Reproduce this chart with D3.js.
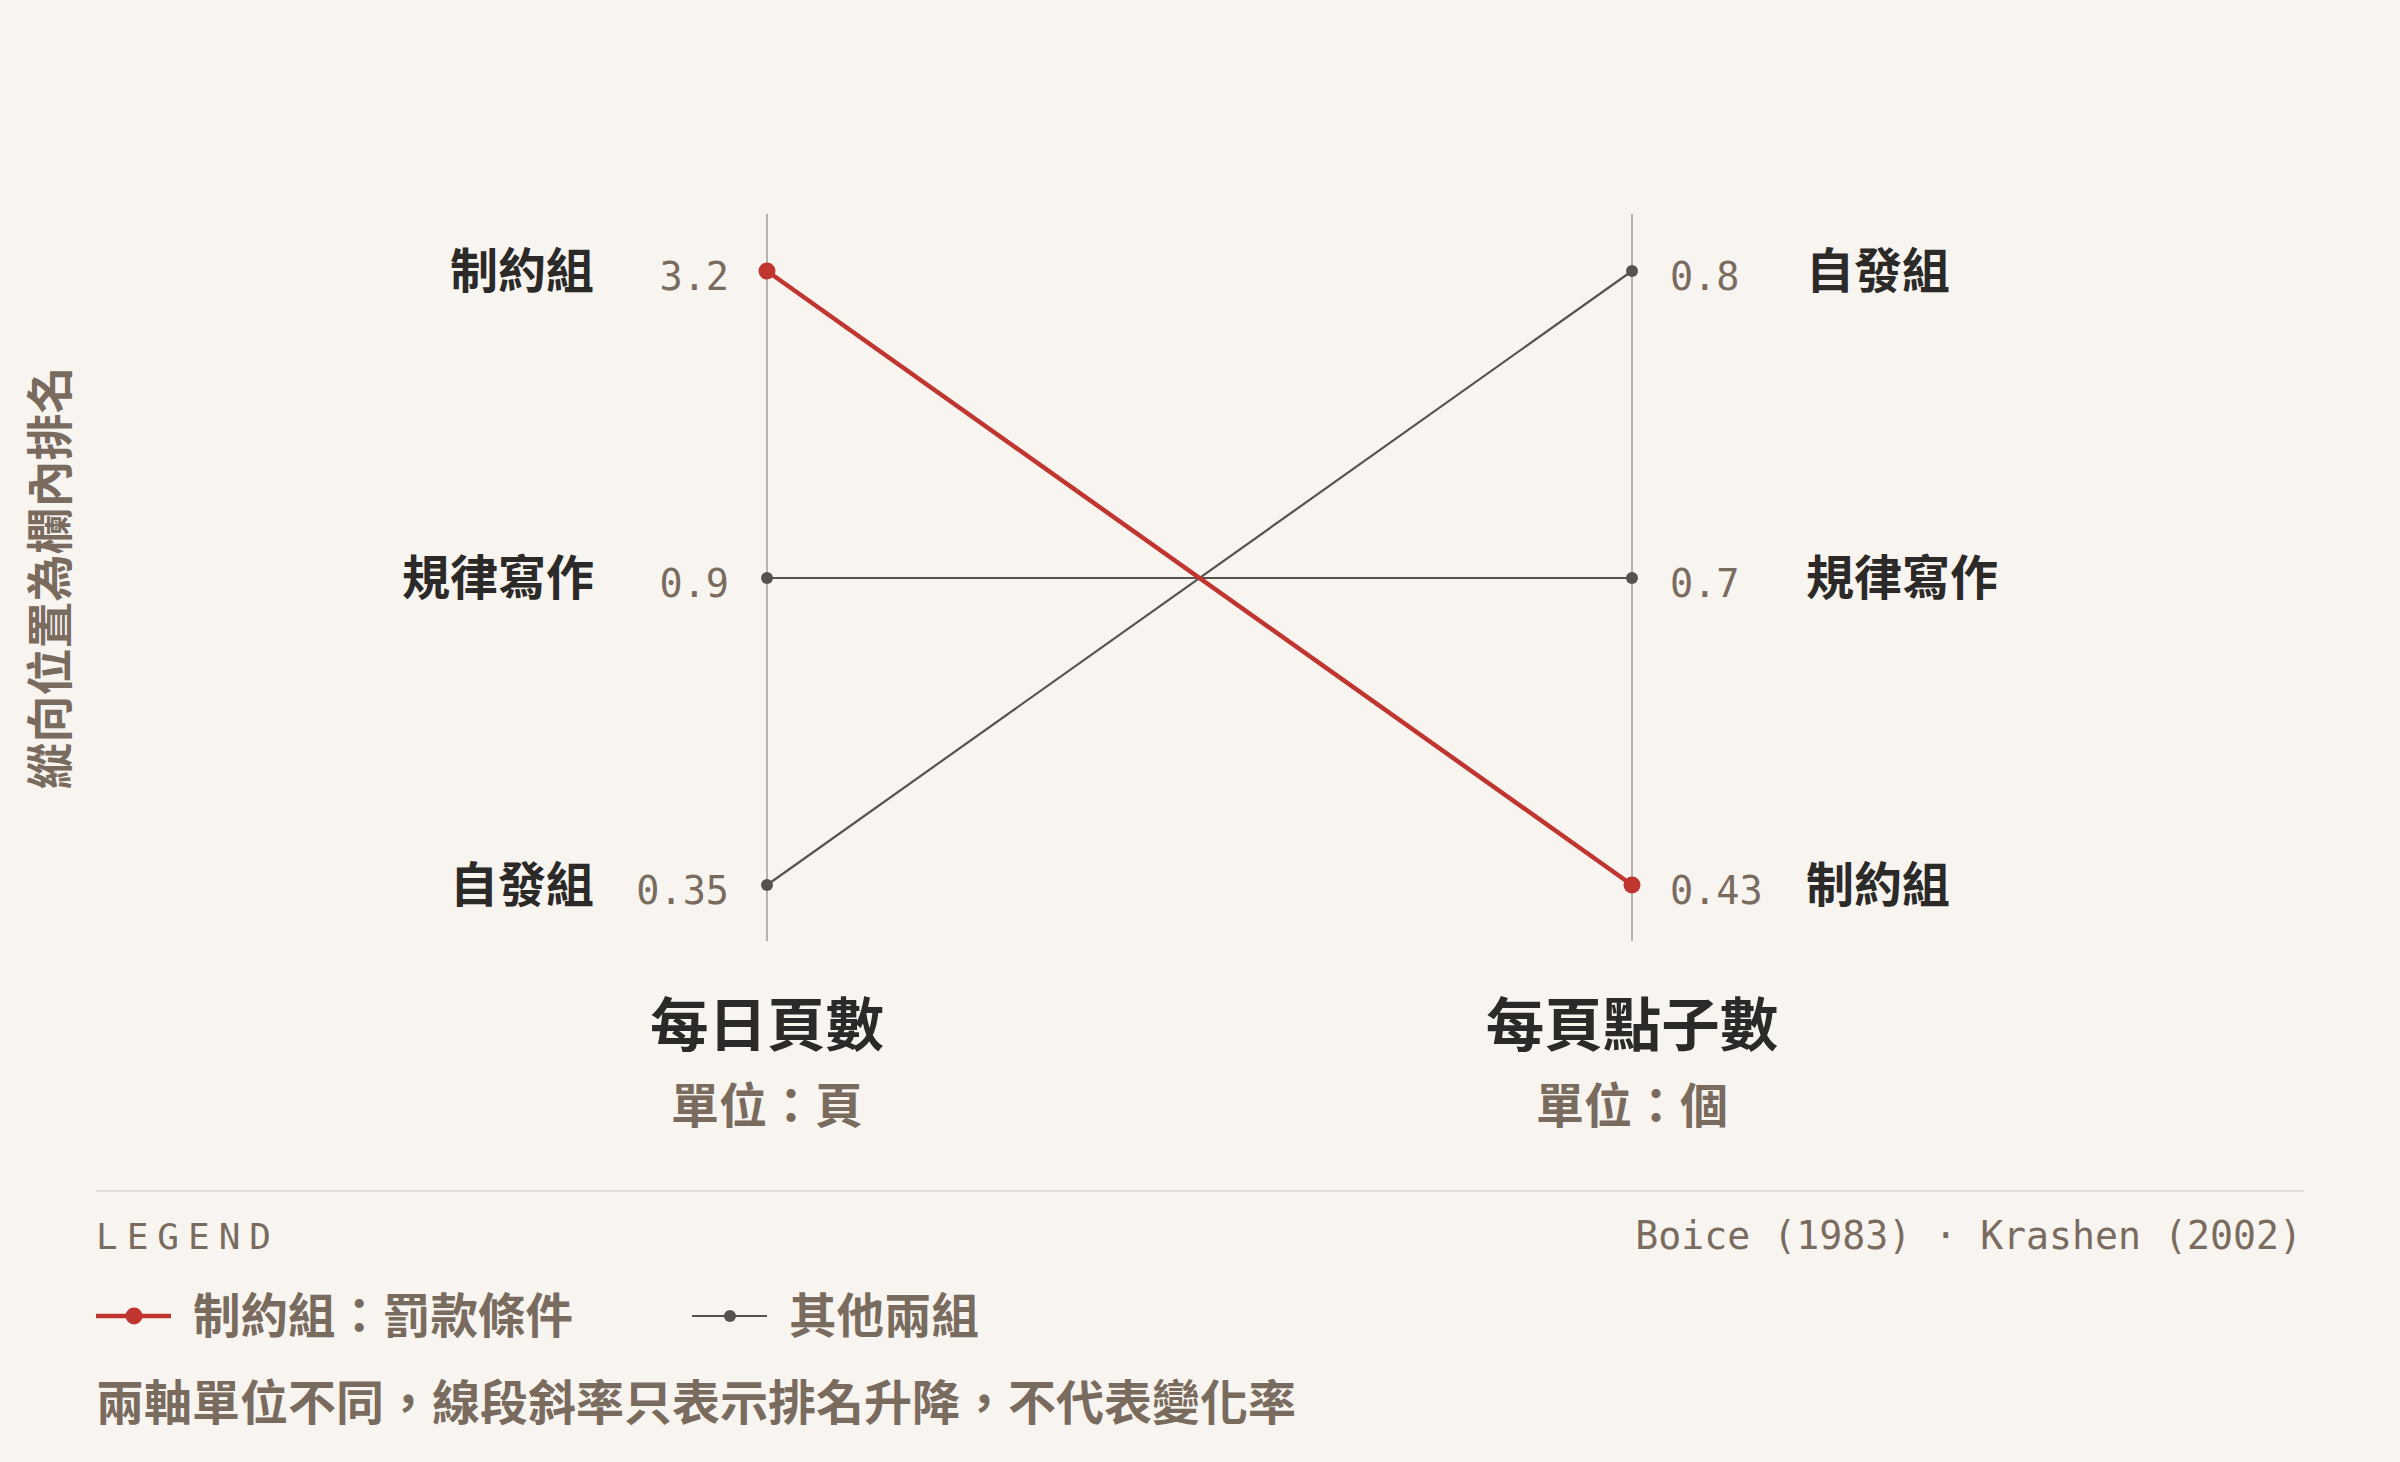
<!DOCTYPE html>
<html>
<head>
<meta charset="utf-8">
<script src="https://cdn.jsdelivr.net/npm/d3@7/dist/d3.min.js"></script>
<style>
  html, body { margin: 0; padding: 0; background: #f8f5f1; }
  svg { display: block; }
</style>
</head>
<body>
<svg id="chart" width="2400" height="1462"></svg>
<script>
// ---- data ----
const columns = ["每日頁數", "每頁點子數"];
const units = ["單位：頁", "單位：個"];
const groups = ["制約組", "自發組", "規律寫作"];
const pagesPerDay = [3.2, 0.35, 0.9];
const ideasPerPage = [0.43, 0.8, 0.7];
const valueLabels = [["3.2", "0.35", "0.9"], ["0.43", "0.8", "0.7"]];
const highlight = "制約組";
const yTitle = "縱向位置為欄內排名";
const legendTitle = "LEGEND";
const sourceText = "Boice (1983) · Krashen (2002)";
const legendItems = ["制約組：罰款條件", "其他兩組"];
const note = "兩軸單位不同，線段斜率只表示排名升降，不代表變化率";

const CJK = "'Noto Sans CJK TC','Noto Sans CJK SC',sans-serif";
const MONO = "'DejaVu Sans Mono','Liberation Mono',monospace";
const RED = "#c0352f";
const DARK = "#555250";
const MUTED = "#7a6b5f";
const INK = "#2b2a28";

const svg = d3.select("#chart");
svg.append("rect").attr("width", 2400).attr("height", 1462).attr("fill", "#f8f5f1");

const valuesByCol = [pagesPerDay, ideasPerPage];
// ranks within column (descending)
const ranks = valuesByCol.map(vals => {
  const order = d3.range(vals.length).sort((a, b) => vals[b] - vals[a]);
  const r = new Array(vals.length);
  order.forEach((idx, k) => r[idx] = k);
  return r;
});

const x = d3.scalePoint().domain(columns).range([767, 1632]);
const y = d3.scalePoint().domain([0, 1, 2]).range([271, 885]);

// axis lines
svg.selectAll("line.axis").data(columns).enter().append("line")
  .attr("x1", d => x(d)).attr("x2", d => x(d))
  .attr("y1", 214).attr("y2", 941)
  .attr("stroke", "#b8b3ad").attr("stroke-width", 2);

// lines (others first, highlight on top)
const order = d3.range(groups.length).sort((a, b) => (groups[a] === highlight) - (groups[b] === highlight));
const g = svg.append("g");
order.forEach(i => {
  const hl = groups[i] === highlight;
  const pts = columns.map((c, ci) => [x(c), y(ranks[ci][i])]);
  g.append("path")
    .attr("d", d3.line()(pts))
    .attr("fill", "none")
    .attr("stroke", hl ? RED : DARK)
    .attr("stroke-width", hl ? 4.5 : 2.2);
  pts.forEach(p => {
    g.append("circle").attr("cx", p[0]).attr("cy", p[1])
      .attr("r", hl ? 8.5 : 6).attr("fill", hl ? RED : DARK);
  });
});

// labels
columns.forEach((c, ci) => {
  const left = ci === 0;
  groups.forEach((grp, i) => {
    const yy = y(ranks[ci][i]);
    svg.append("text")
      .attr("x", left ? x(c) - 38 : x(c) + 38)
      .attr("y", yy + 19)
      .attr("text-anchor", left ? "end" : "start")
      .attr("font-family", MONO).attr("font-size", 38.5)
      .attr("fill", MUTED)
      .text(valueLabels[ci][i]);
    svg.append("text")
      .attr("x", left ? 594 : 1806)
      .attr("y", yy + 17)
      .attr("text-anchor", left ? "end" : "start")
      .attr("font-family", CJK).attr("font-size", 48).attr("font-weight", 700)
      .attr("fill", INK)
      .text(grp);
  });
  svg.append("text")
    .attr("x", x(c)).attr("y", 1046)
    .attr("text-anchor", "middle")
    .attr("font-family", CJK).attr("font-size", 58.5).attr("font-weight", 700)
    .attr("fill", INK).text(c);
  svg.append("text")
    .attr("x", x(c)).attr("y", 1123)
    .attr("text-anchor", "middle")
    .attr("font-family", CJK).attr("font-size", 48).attr("font-weight", 700)
    .attr("fill", MUTED).text(units[ci]);
});

// y title
svg.append("text")
  .attr("transform", "translate(67,578) rotate(-90)")
  .attr("text-anchor", "middle")
  .attr("font-family", CJK).attr("font-size", 47).attr("font-weight", 700)
  .attr("fill", MUTED).text(yTitle);

// divider
svg.append("line").attr("x1", 96).attr("x2", 2304).attr("y1", 1191).attr("y2", 1191)
  .attr("stroke", "#e2ddd8").attr("stroke-width", 2);

svg.append("text").attr("x", 96).attr("y", 1249)
  .attr("font-family", MONO).attr("font-size", 36).attr("letter-spacing", 9)
  .attr("fill", MUTED).text(legendTitle);
svg.append("text").attr("x", 2302).attr("y", 1249).attr("text-anchor", "end")
  .attr("font-family", MONO).attr("font-size", 38.2)
  .attr("fill", MUTED).text(sourceText);

// legend items
const legX = [96, 692];
legendItems.forEach((t, i) => {
  const hl = i === 0;
  const lx = legX[i];
  const ly = 1316;
  svg.append("line").attr("x1", lx).attr("x2", lx + 75).attr("y1", ly).attr("y2", ly)
    .attr("stroke", hl ? RED : DARK).attr("stroke-width", hl ? 4.5 : 2.2);
  svg.append("circle").attr("cx", lx + 38).attr("cy", ly).attr("r", hl ? 8.5 : 6)
    .attr("fill", hl ? RED : DARK);
  svg.append("text").attr("x", lx + 97).attr("y", ly + 17)
    .attr("font-family", CJK).attr("font-size", 47.5).attr("font-weight", 700)
    .attr("fill", MUTED).text(t);
});

svg.append("text").attr("x", 96).attr("y", 1420)
  .attr("font-family", CJK).attr("font-size", 48).attr("font-weight", 700)
  .attr("fill", MUTED).text(note);
</script>
</body>
</html>
